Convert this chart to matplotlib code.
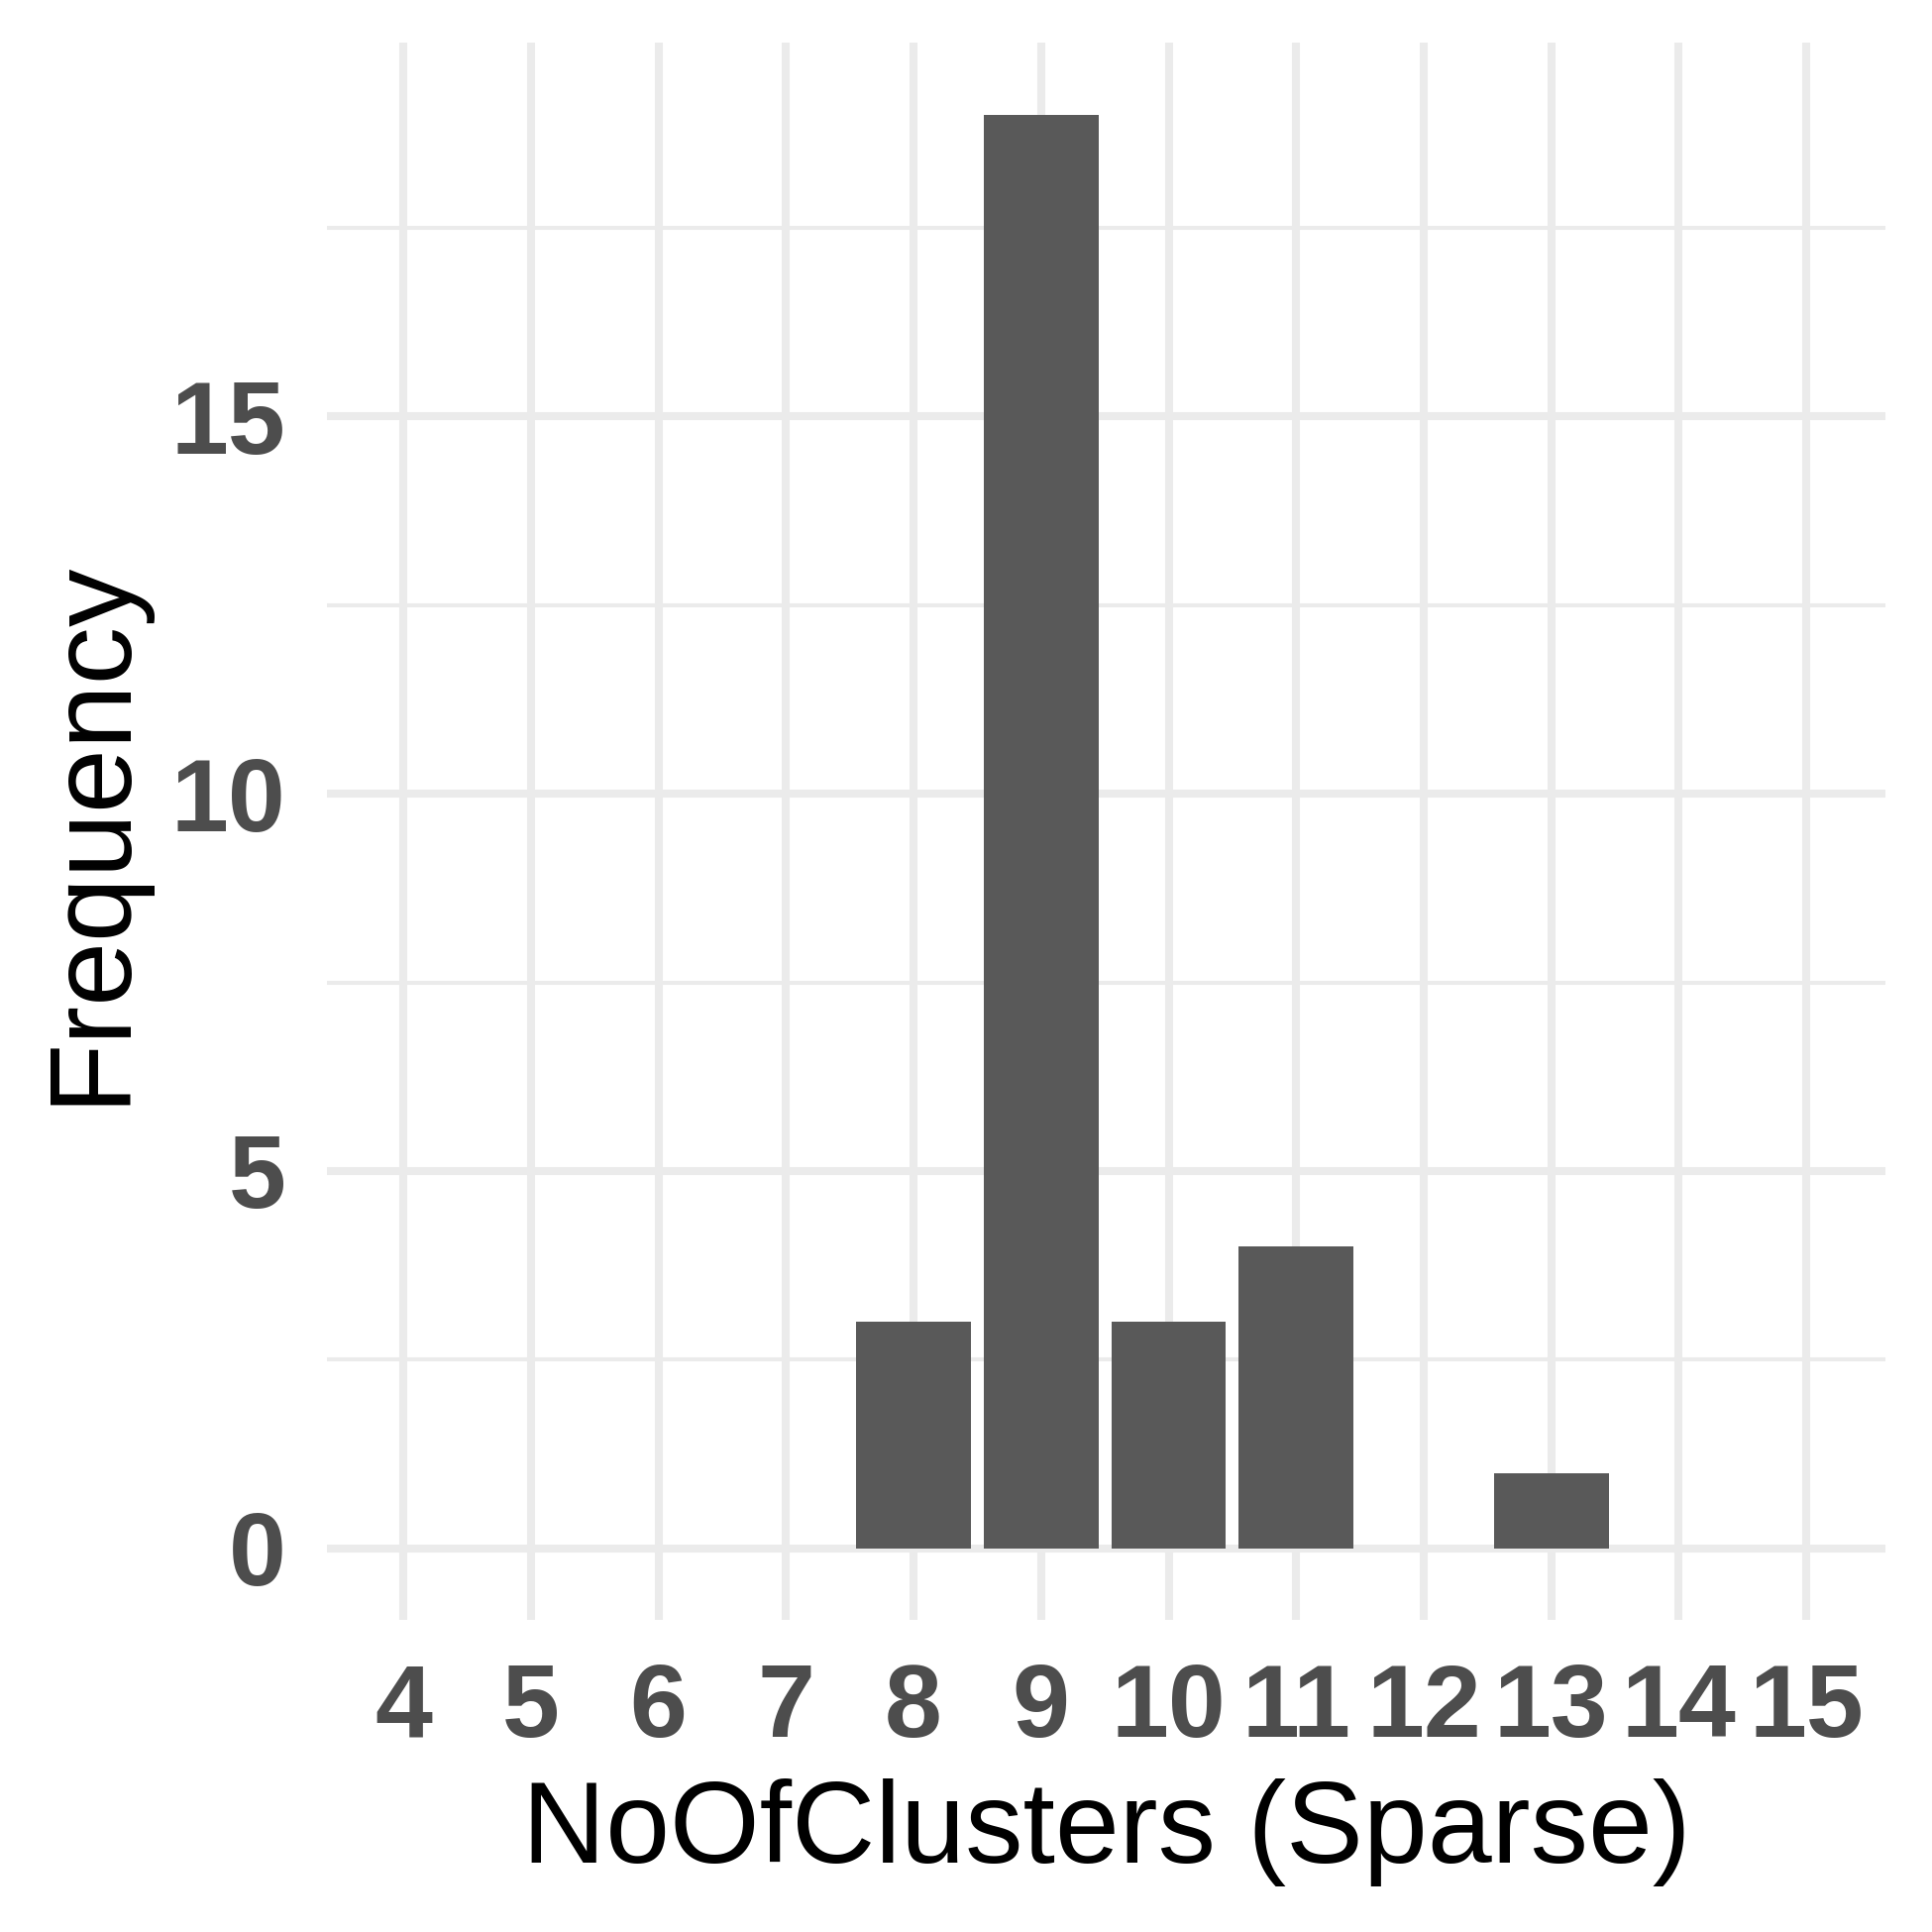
import numpy as np
import matplotlib.pyplot as plt

# cluster counts and how often each occurred
clusters = [8, 9, 10, 11, 13]
freq = [3, 19, 3, 4, 1]
x_ticks = list(range(4, 16))
y_ticks = [0, 5, 10, 15]
y_minor = [2.5, 7.5, 12.5, 17.5]

plt.rcParams['font.family'] = ['Liberation Sans', 'DejaVu Sans']

fig = plt.figure(figsize=(19.5, 19.5), dpi=100)
ax = fig.add_axes([0.1692, 0.1615, 0.8067, 0.8162])

ax.bar(clusters, freq, width=0.9, color='#595959', zorder=3)

ax.set_xlim(3.4, 15.62)
ax.set_ylim(-0.95, 19.95)
ax.set_xticks(x_ticks)
ax.set_yticks(y_ticks)
ax.set_yticks(y_minor, minor=True)

# grid, ggplot theme_minimal look
ax.grid(axis='y', which='major', color='#EBEBEB', linewidth=5.8, zorder=0)
ax.grid(axis='y', which='minor', color='#EBEBEB', linewidth=2.9, zorder=0)
ax.grid(axis='x', which='major', color='#EBEBEB', linewidth=5.8, zorder=0)
for s in ax.spines.values():
    s.set_visible(False)

ax.tick_params(axis='both', which='both', length=0)
ax.tick_params(axis='x', pad=31, labelsize=75, labelcolor='#4D4D4D')
ax.tick_params(axis='y', pad=30, labelsize=75, labelcolor='#4D4D4D')
for lab in ax.get_xticklabels() + ax.get_yticklabels():
    lab.set_fontweight('bold')

ax.set_xlabel('NoOfClusters (Sparse)', fontsize=84, color='black', va='baseline')
ax.set_ylabel('Frequency', fontsize=84, color='black', va='baseline')
ax.xaxis.set_label_coords(0.5, -0.154)
ax.yaxis.set_label_coords(-0.131, 0.5)

fig.savefig('out.png', dpi=100, facecolor='white')
